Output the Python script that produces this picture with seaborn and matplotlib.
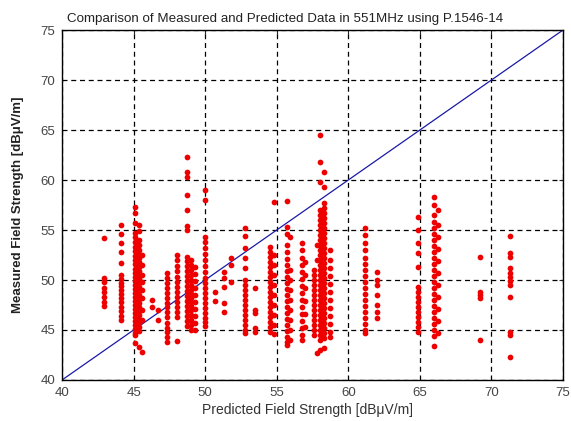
import numpy as np
import pandas as pd
import matplotlib
matplotlib.use('Agg')
import matplotlib.pyplot as plt
import seaborn as sns

# measured field strength per predicted level
m_42_9 = [54.2, 50.2, 49.8, 49.2, 48.8, 48.3, 47.8, 47.4]
m_44_1 = [55.5, 54.6, 53.7, 52.8, 51.7, 50.5, 50.1, 49.7, 49.4, 49.0, 48.6, 48.2, 47.8,
          47.3, 46.9, 46.4, 46.0]
m_45_1 = [57.3, 56.7, 55.7, 54.7, 54.3, 53.8, 53.3, 52.9, 52.4, 52.0, 51.6, 51.1, 50.7,
          50.3, 49.9, 49.5, 49.1, 48.7, 48.3, 47.9, 47.5, 47.1, 46.7, 46.3, 45.9, 45.5,
          45.1, 44.7, 44.5, 43.7]
m_45_4 = [55.5, 54.9, 54.0, 53.5, 53.0, 52.6, 52.2, 51.8, 51.3, 50.9, 50.5, 50.1, 49.7,
          49.3, 48.9, 48.5, 48.1, 47.7, 47.3, 46.9, 46.5, 46.1, 45.7, 45.3, 44.9, 43.3]
m_45_6 = [52.5, 51.5, 50.5, 49.8, 49.0, 48.2, 47.0, 46.0, 42.8]
m_46_3 = [48.0, 47.3]
m_46_7 = [47.0, 46.0]
m_47_3 = [50.7, 50.2, 49.7, 49.2, 48.7, 48.2, 47.7, 47.3, 46.8, 46.3, 45.7, 45.2, 44.8,
          44.3, 43.8]
m_48_0 = [52.5, 52.0, 51.4, 50.9, 50.3, 49.8, 49.3, 48.8, 48.3, 47.8, 47.3, 46.8, 46.3, 43.9]
m_48_7 = [62.3, 60.8, 60.3, 58.5, 57.0, 55.4, 55.0, 52.3, 51.9, 51.4, 50.9, 50.4, 49.9,
          49.4, 48.9, 48.4, 47.9, 47.4, 46.9, 46.4, 45.9, 45.4]
m_49_0 = [52.0, 51.5, 51.0, 50.5, 50.0, 49.5, 49.0, 48.6, 48.2, 47.8, 47.4, 47.0, 46.5,
          46.0, 45.5, 45.0]
m_49_3 = [51.3, 50.6, 49.9, 49.2, 48.5, 47.8, 47.1, 46.4, 45.7, 45.0]
m_50_0 = [59.0, 58.0, 54.3, 53.8, 53.2, 52.6, 52.0, 51.4, 50.8, 50.2, 49.7, 49.2, 48.7,
          48.2, 47.7, 47.2, 46.7, 46.2, 45.8, 45.4]
m_50_7 = [48.8, 47.9]
m_51_3 = [50.8, 50.2, 49.3, 47.7, 46.8]
m_51_8 = [52.2, 51.5, 49.8]
m_52_8 = [55.2, 54.4, 53.2, 52.2, 51.2, 50.0, 49.5, 49.0, 48.5, 48.0, 47.5, 47.0, 46.5,
          46.0, 45.5, 45.0, 44.7]
m_53_5 = [49.2, 47.0, 46.7, 45.2, 44.8]
m_54_5 = [53.3, 52.8, 52.3, 51.8, 51.3, 50.8, 50.3, 49.8, 49.3, 48.8, 48.3, 47.8, 47.3,
          46.8, 46.3, 45.8, 45.3, 44.8]
m_54_8 = [57.8, 52.5, 51.5, 50.5, 49.5, 48.5, 47.5, 46.5, 45.5, 44.6]
m_55_7 = [57.9, 55.3, 54.6, 53.5, 52.8, 52.1, 51.5, 50.9, 50.3, 49.7, 49.1, 48.5, 47.9,
          47.3, 46.7, 46.1, 45.5, 44.9, 44.3, 43.8, 43.5]
m_55_9 = [54.3, 51.0, 50.0, 49.0, 48.0, 47.0, 46.0, 45.0, 44.0]
m_56_8 = [53.7, 53.0, 52.2, 51.5, 50.8, 50.1, 49.4, 48.7, 48.0, 47.3, 46.6, 45.9, 45.2,
          44.5, 44.0]
m_57_0 = [51.8, 50.5, 49.2, 47.9, 46.6, 45.3]
m_57_6 = [51.0, 50.5, 50.0, 49.5, 49.0, 48.5, 48.0, 47.5, 47.0, 46.5, 46.0, 45.5, 45.0, 44.5]
m_57_8 = [42.7, 53.5, 52.0]
m_58_0 = [64.5, 61.8, 59.8, 57.0, 56.5, 56.0, 55.5, 55.0, 54.5, 54.0, 53.5, 53.0, 52.5,
          52.0, 51.5, 51.0, 50.5, 50.0, 49.5, 49.0, 48.5, 48.0, 47.5, 47.0, 46.5, 46.0,
          45.5, 45.0, 44.5, 44.0, 43.0]
m_58_3 = [60.8, 59.3, 57.7, 57.2, 56.7, 56.2, 55.7, 55.2, 54.7, 54.2, 53.7, 53.2, 52.7,
          52.2, 51.7, 51.2, 50.7, 50.2, 49.7, 49.2, 48.7, 48.2, 47.7, 47.2, 46.7, 46.2,
          45.7, 45.2, 44.7, 44.2, 43.2]
m_58_7 = [53.0, 52.0, 51.2, 50.4, 49.6, 48.8, 48.0, 47.2, 46.4, 45.6, 44.8, 44.3]
m_61_2 = [55.2, 54.5, 53.7, 53.0, 52.2, 51.6, 51.0, 50.4, 49.8, 49.2, 48.6, 48.0, 47.4,
          46.8, 46.2, 45.6, 45.0, 44.7]
m_62_0 = [50.8, 50.0, 49.5, 48.5, 47.5, 46.8, 46.2]
m_64_9 = [56.3, 55.0, 53.7, 52.7, 51.3, 49.3, 48.8, 48.3, 47.8, 47.3, 46.8, 46.3, 45.8,
          45.3, 44.8]
m_66_0 = [58.3, 57.5, 56.5, 55.8, 55.2, 54.6, 54.0, 53.4, 52.8, 52.2, 51.6, 51.0, 50.4,
          49.8, 49.2, 48.6, 48.0, 47.4, 46.8, 46.2, 45.6, 45.0, 44.4, 43.4]
m_66_3 = [57.0, 55.5, 54.3, 53.1, 51.9, 50.7, 49.5, 48.3, 47.1, 45.9, 44.7]
m_69_2 = [52.3, 48.8, 48.5, 48.2, 44.0]
m_71_3 = [54.4, 52.7, 52.3, 51.2, 50.7, 50.3, 49.9, 49.5, 48.3, 44.8, 44.5, 42.3]

columns = [(42.9, m_42_9), (44.1, m_44_1), (45.1, m_45_1), (45.4, m_45_4), (45.6, m_45_6),
           (46.3, m_46_3), (46.7, m_46_7), (47.3, m_47_3), (48.0, m_48_0), (48.7, m_48_7),
           (49.0, m_49_0), (49.3, m_49_3), (50.0, m_50_0), (50.7, m_50_7), (51.3, m_51_3),
           (51.8, m_51_8), (52.8, m_52_8), (53.5, m_53_5), (54.5, m_54_5), (54.8, m_54_8),
           (55.7, m_55_7), (55.9, m_55_9), (56.8, m_56_8), (57.0, m_57_0), (57.6, m_57_6),
           (57.8, m_57_8), (58.0, m_58_0), (58.3, m_58_3), (58.7, m_58_7), (61.2, m_61_2),
           (62.0, m_62_0), (64.9, m_64_9), (66.0, m_66_0), (66.3, m_66_3), (69.2, m_69_2),
           (71.3, m_71_3)]

ref_line = [40, 75]

rows = [(x, y) for x, ys in columns for y in ys]
df = pd.DataFrame(rows, columns=['predicted', 'measured'])

sns.set_style('white')
plt.rcParams['font.family'] = ['Liberation Sans', 'DejaVu Sans']

fig = plt.figure(figsize=(5.71, 4.21), dpi=100)
ax = fig.add_axes([0.1086, 0.0974, 0.8774, 0.8313])

ax.plot(ref_line, ref_line, color='#1a1aa8', lw=0.9, zorder=2)
sns.scatterplot(data=df, x='predicted', y='measured', ax=ax, color='#ee0000',
                marker='o', s=17, linewidth=0, zorder=3)

ax.set_xlim(40, 75)
ax.set_ylim(40, 75)
ax.set_xticks(range(40, 76, 5))
ax.set_yticks(range(40, 76, 5))
ax.grid(True, color='black', linestyle=(0, (4, 3)), lw=0.9)
ax.set_axisbelow(True)
for sp in ax.spines.values():
    sp.set_color('black')
    sp.set_linewidth(1.0)
ax.tick_params(direction='in', top=True, right=True, length=3, labelsize=9.5,
               labelcolor='#444444', pad=5)

ax.set_xlabel('Predicted Field Strength [dBμV/m]', fontsize=10, color='#333333')
ax.set_ylabel('Measured Field Strength [dBμV/m]', fontsize=9.5, fontweight='bold',
              color='#222222')
ax.xaxis.set_label_coords(0.49, -0.065)
ax.yaxis.set_label_coords(-0.075, 0.5)
fig.text(0.5, 0.955, 'Comparison of Measured and Predicted Data in 551MHz using P.1546-14',
         ha='center', va='center', fontsize=9.6, color='#222222')

fig.savefig('out.png', dpi=100)
